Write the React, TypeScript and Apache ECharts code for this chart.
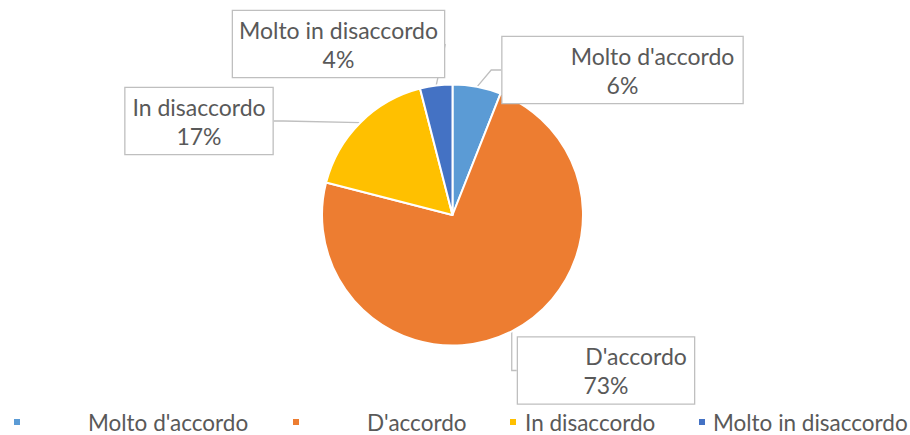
import React, { useEffect, useRef } from "react";
import * as echarts from "echarts";

const categories = ["Molto d'accordo", "D'accordo", "In disaccordo", "Molto in disaccordo"];
const values = [6, 73, 17, 4];

const colors = ["#5B9BD5", "#ED7D31", "#FFC000", "#4472C4"];
const FONT = "Lato";
const TEXT = "#595959";
const FS = 23;
const LEGEND_FS = 22.5;

// label box layout (style only)
const boxCenters = [
  [622.5, 70],
  [606, 370.5],
  [199, 121],
  [338.5, 44],
];
const boxWidths = [240, 176, 147, 211];
const nameShift = [30, 30, 0, 0];

// legend layout (style only)
const legendLefts = [12, 291, 508, 697];
const legendTextPad = [62, 62, 3, 2];

export default function App() {
  const ref = useRef<HTMLDivElement>(null);
  useEffect(() => {
    if (!ref.current) return;
    const chart = echarts.init(ref.current, null, { renderer: "svg" });
    const rich: any = {
      p: { fontSize: FS, fontFamily: FONT, color: TEXT, lineHeight: 29, align: "center" },
    };
    nameShift.forEach((s, i) => {
      rich["n" + i] = {
        fontSize: FS,
        fontFamily: FONT,
        color: TEXT,
        lineHeight: 29,
        align: "center",
        padding: [0, 0, 0, 2 * s],
      };
    });
    const padX = 6;
    const option: any = {
      animation: false,
      backgroundColor: "#ffffff",
      color: colors,
      legend: categories.map((c, i) => ({
        data: [c],
        left: legendLefts[i],
        top: 410,
        padding: 0,
        icon: "rect",
        itemWidth: 8,
        itemHeight: 8,
        selectedMode: false,
        textStyle: {
          fontSize: LEGEND_FS,
          fontFamily: FONT,
          color: TEXT,
          lineHeight: 24,
          padding: [0, 0, 0, legendTextPad[i]],
        },
      })),
      series: [
        {
          type: "pie",
          center: [452.5, 215],
          radius: 130.5,
          startAngle: 90,
          clockwise: true,
          itemStyle: { borderColor: "#ffffff", borderWidth: 2 },
          data: categories.map((c, i) => ({
            name: c,
            value: values[i],
            label: { width: boxWidths[i] - 2 * padX },
          })),
          label: {
            show: true,
            position: "outside",
            overflow: "none",
            formatter: (p: any) => `{n${p.dataIndex}|${p.name}}\n{p|${p.percent}%}`,
            rich,
            fontSize: FS,
            fontFamily: FONT,
            color: TEXT,
            backgroundColor: "#ffffff",
            borderColor: "#BFBFBF",
            borderWidth: 1.3,
            padding: [4, padX],
          },
          labelLine: {
            show: true,
            length: 10,
            length2: 10,
            lineStyle: { color: "#BFBFBF", width: 1.3 },
          },
          labelLayout: (params: any) => {
            const i = params.dataIndex;
            return {
              x: boxCenters[i][0],
              y: boxCenters[i][1],
              align: "center",
              verticalAlign: "middle",
            };
          },
        },
      ],
    };
    chart.setOption(option);
    return () => chart.dispose();
  }, []);
  return (
    <div
      ref={ref}
      style={{ position: "fixed", left: 0, top: 0, width: 910, height: 435, background: "#fff" }}
    />
  );
}
